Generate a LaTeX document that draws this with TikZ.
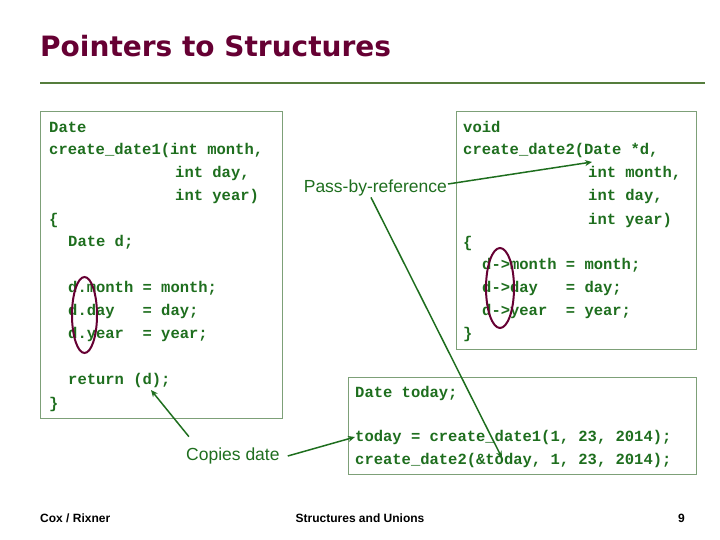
\documentclass[tikz,border=0pt]{standalone}
\usepackage{fontspec}
\setmainfont{Liberation Sans}
\setmonofont{Liberation Mono}
\newfontfamily\titlefont{DejaVu Sans}
\usetikzlibrary{arrows.meta, positioning, calc}
\definecolor{codegreen}{RGB}{30, 110, 30}
\definecolor{boxgreen}{RGB}{125, 160, 120}
\definecolor{slidemaroon}{RGB}{102, 0, 51}
\definecolor{ruleolive}{RGB}{85, 125, 60}

\begin{document}
\begin{tikzpicture}[x=1pt, y=-1pt,
    codebox/.style={draw=boxgreen, line width=1pt},
    code/.style={anchor=west, inner sep=0pt, text=codegreen, font=\ttfamily\bfseries\fontsize{15.5}{18}\selectfont},
    callout/.style={inner sep=1pt, text=codegreen, font=\fontsize{17.5}{20}\selectfont},
    pointer/.style={draw=codegreen, line width=1.5pt, -{Stealth[length=7pt, width=6pt]}},
    ring/.style={draw=slidemaroon, line width=2pt},
    footer/.style={inner sep=0pt, font=\bfseries\fontsize{12}{14}\selectfont}]
  \useasboundingbox (0,0) rectangle (720,540);
  % title
  \node[anchor=base west, inner sep=0pt, text=slidemaroon, font=\titlefont\bfseries\fontsize{28}{34}\selectfont] (title) at (40,57) {Pointers to Structures};
  \draw[ruleolive, line width=1.2pt] (40,83) -- (705,83);

  % create_date1
  \draw[codebox] (40,112) rectangle (282,418);
  \node[code] (a1) at (49,127) {Date};
  \node[code] at (49,150) {create\_date1(int month,};
  \node[code] at (175,173) {int day,};
  \node[code] at (175,196) {int year)};
  \node[code] at (49,220) {\{};
  \node[code] at (68,242) {Date d;};
  \node[code] at (68,288) {d.month = month;};
  \node[code] at (68,311) {d.day\ \ \ = day;};
  \node[code] at (68,334) {d.year\ \ = year;};
  \node[code] (ret) at (68,380) {return (d);};
  \node[code] at (49,404) {\}};
  \draw[ring] (84.5,315) ellipse (12.5 and 38);

  % create_date2
  \draw[codebox] (456,112) rectangle (696,349);
  \node[code] at (463,127) {void};
  \node[code] at (463,150) {create\_date2(Date *d,};
  \node[code] at (588,173) {int month,};
  \node[code] at (588,196) {int day,};
  \node[code] at (588,220) {int year)};
  \node[code] at (463,243) {\{};
  \node[code] at (482,265) {d->month = month;};
  \node[code] at (482,288) {d->day\ \ \ = day;};
  \node[code] at (482,311) {d->year\ \ = year;};
  \node[code] at (463,334) {\}};
  \draw[ring] (500,288) ellipse (14 and 40);

  % caller
  \draw[codebox] (348,377) rectangle (696,474);
  \node[code] at (355,393) {Date today;};
  \node[code] (call1) at (355,437) {today = create\_date1(1, 23, 2014);};
  \node[code] at (355,460) {create\_date2(\&today, 1, 23, 2014);};

  % callouts
  \node[callout, anchor=east] (byref) at (448,188) {Pass-by-reference};
  \node[callout, anchor=west] (copies) at (185,456) {Copies date};
  \coordinate (dptr) at (592,162);
  \coordinate (amp) at (502,458);
  \coordinate (retd) at (151,390);
  \draw[pointer] (byref.east) ++(0,-4) -- (dptr);
  \draw[pointer] ($(byref.south west)!0.47!(byref.south east)$) -- (amp);
  \draw[pointer] (copies.north) ++(-44,-10) -- (retd);
  \draw[pointer] (copies.east) ++(7,0) -- (call1.west);

  % footer
  \node[footer, anchor=base west] (author) at (40,522) {Cox / Rixner};
  \node[footer, anchor=base] (topic) at (360,522) {Structures and Unions};
  \node[footer, anchor=base east] (page) at (685,522) {9};
\end{tikzpicture}
\end{document}
